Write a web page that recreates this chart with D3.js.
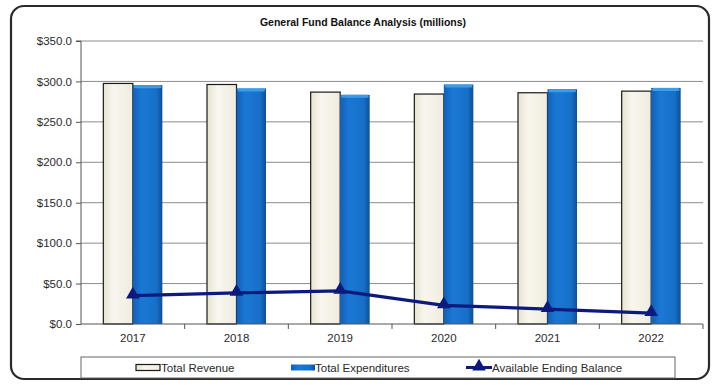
<!DOCTYPE html>
<html>
<head>
<meta charset="utf-8">
<script src="https://cdn.jsdelivr.net/npm/d3@7"></script>
<style>
  html, body { margin: 0; padding: 0; background: #fff; }
  svg { display: block; font-family: "Liberation Sans", Arial, sans-serif; }
</style>
</head>
<body>
<svg id="chart" width="713" height="385"></svg>
<script>
// General Fund figures, in millions of dollars
const years = ["2017", "2018", "2019", "2020", "2021", "2022"];
const totalRevenue = [297.5, 296.2, 286.8, 284.4, 286.0, 288.0];
const totalExpenditures = [295.4, 291.3, 283.4, 296.2, 290.4, 292.0];
const availableEndingBalance = [35.0, 38.5, 41.0, 23.0, 18.5, 13.5];
const yTicks = [0, 50, 100, 150, 200, 250, 300, 350];

const svg = d3.select("#chart");
const plot = { left: 81, right: 703, top: 41, bottom: 324 };

// outer rounded frame
svg.append("rect")
  .attr("x", 11).attr("y", 6).attr("width", 698).attr("height", 373)
  .attr("rx", 13).attr("ry", 13)
  .attr("fill", "#fff").attr("stroke", "#2a2a2a").attr("stroke-width", 2.2);

// gradients for the bar faces
const defs = svg.append("defs");
const gRev = defs.append("linearGradient").attr("id", "gradRev")
  .attr("x1", "0%").attr("x2", "100%").attr("y1", "0%").attr("y2", "0%");
gRev.append("stop").attr("offset", "0%").attr("stop-color", "#e8e4d0");
gRev.append("stop").attr("offset", "35%").attr("stop-color", "#f8f6ee");
gRev.append("stop").attr("offset", "100%").attr("stop-color", "#efebde");
const gExp = defs.append("linearGradient").attr("id", "gradExp")
  .attr("x1", "0%").attr("x2", "100%").attr("y1", "0%").attr("y2", "0%");
gExp.append("stop").attr("offset", "0%").attr("stop-color", "#1060b8");
gExp.append("stop").attr("offset", "30%").attr("stop-color", "#1a78d4");
gExp.append("stop").attr("offset", "80%").attr("stop-color", "#1670c8");
gExp.append("stop").attr("offset", "100%").attr("stop-color", "#0c4f98");

const x = d3.scaleBand().domain(years).range([plot.left, plot.right]).paddingInner(0).paddingOuter(0);
const barW = 29.5;
const y = d3.scaleLinear().domain([0, 350]).range([plot.bottom, plot.top]);

// title
svg.append("text")
  .attr("x", 363).attr("y", 26)
  .attr("text-anchor", "middle")
  .attr("font-size", 10.5).attr("font-weight", "bold").attr("fill", "#111")
  .text("General Fund Balance Analysis (millions)");

// horizontal gridlines
svg.append("g").selectAll("line").data(yTicks.filter(d => d > 0)).join("line")
  .attr("x1", plot.left).attr("x2", plot.right)
  .attr("y1", d => y(d)).attr("y2", d => y(d))
  .attr("stroke", "#8c8c8c").attr("stroke-width", 1);

// y axis
const yAxis = d3.axisLeft(y).tickValues(yTicks).tickSize(5).tickPadding(4)
  .tickFormat(d => "$" + d3.format(".1f")(d));
const gy = svg.append("g").attr("transform", `translate(${plot.left},0)`).call(yAxis);
gy.select(".domain").attr("stroke", "#555").attr("d", `M-5,${plot.top}H0V${plot.bottom}`);
gy.selectAll(".tick line").attr("stroke", "#555");
gy.selectAll(".tick text").attr("font-size", 11.5).attr("fill", "#2a2a2a")
  .attr("font-family", "'Liberation Sans', Arial, sans-serif");

// revenue bars
svg.append("g").selectAll("rect").data(years).join("rect")
  .attr("x", (d) => x(d) + x.bandwidth() / 2 - barW)
  .attr("y", (d, i) => y(totalRevenue[i]))
  .attr("width", barW)
  .attr("height", (d, i) => plot.bottom - y(totalRevenue[i]))
  .attr("fill", "url(#gradRev)")
  .attr("stroke", "#1a1a1a").attr("stroke-width", 1.2);

// expenditure bars
const expG = svg.append("g");
expG.selectAll("rect.face").data(years).join("rect").attr("class", "face")
  .attr("x", (d) => x(d) + x.bandwidth() / 2)
  .attr("y", (d, i) => y(totalExpenditures[i]))
  .attr("width", barW)
  .attr("height", (d, i) => plot.bottom - y(totalExpenditures[i]))
  .attr("fill", "url(#gradExp)");
// lighter rounded cap on top of each expenditure bar
expG.selectAll("rect.cap").data(years).join("rect").attr("class", "cap")
  .attr("x", (d) => x(d) + x.bandwidth() / 2 + 1)
  .attr("y", (d, i) => y(totalExpenditures[i]))
  .attr("width", barW - 2)
  .attr("height", 3)
  .attr("rx", 1.5)
  .attr("fill", "#3d9be8");

// x axis
const xAxis = d3.axisBottom(x).tickSize(0).tickPadding(10);
const gx = svg.append("g").attr("transform", `translate(0,${plot.bottom})`).call(xAxis);
gx.select(".domain").attr("stroke", "#555").attr("d", `M${plot.left},0H${plot.right}`);
gx.selectAll(".tick text").attr("font-size", 11.5).attr("fill", "#2a2a2a")
  .attr("font-family", "'Liberation Sans', Arial, sans-serif");
// tick marks between categories
svg.append("g").selectAll("line").data(years).join("line")
  .attr("x1", (d, i) => plot.left + x.bandwidth() * (i + 1))
  .attr("x2", (d, i) => plot.left + x.bandwidth() * (i + 1))
  .attr("y1", plot.bottom).attr("y2", plot.bottom + 5)
  .attr("stroke", "#555");

// ending balance line
const lineColor = "#0b1a7c";
const line = d3.line()
  .x((d, i) => x(years[i]) + x.bandwidth() / 2)
  .y(d => y(d));
svg.append("path").datum(availableEndingBalance)
  .attr("d", line).attr("fill", "none")
  .attr("stroke", lineColor).attr("stroke-width", 3.2);
const tri = d3.symbol().type(d3.symbolTriangle).size(80);
svg.append("g").selectAll("path").data(availableEndingBalance).join("path")
  .attr("d", tri)
  .attr("transform", (d, i) => `translate(${x(years[i]) + x.bandwidth() / 2},${y(d) - 1})`)
  .attr("fill", lineColor);

// legend
const lg = svg.append("g");
lg.append("rect").attr("x", 81).attr("y", 357).attr("width", 594).attr("height", 21)
  .attr("fill", "#fff").attr("stroke", "#666").attr("stroke-width", 1);
const legendY = 367.5;
lg.append("rect").attr("x", 136).attr("y", legendY - 3).attr("width", 24).attr("height", 6)
  .attr("fill", "url(#gradRev)").attr("stroke", "#1a1a1a").attr("stroke-width", 1.2);
lg.append("text").attr("x", 161).attr("y", legendY + 4).attr("font-size", 11.5).attr("fill", "#2a2a2a")
  .text("Total Revenue");
lg.append("rect").attr("x", 291).attr("y", legendY - 3).attr("width", 24).attr("height", 6)
  .attr("fill", "url(#gradExp)");
lg.append("text").attr("x", 315).attr("y", legendY + 4).attr("font-size", 11.5).attr("fill", "#2a2a2a")
  .text("Total Expenditures");
lg.append("line").attr("x1", 466).attr("x2", 492).attr("y1", legendY).attr("y2", legendY)
  .attr("stroke", lineColor).attr("stroke-width", 3);
lg.append("path").attr("d", tri).attr("transform", `translate(479,${legendY - 1})`).attr("fill", lineColor);
lg.append("text").attr("x", 492).attr("y", legendY + 4).attr("font-size", 11.5).attr("fill", "#2a2a2a")
  .text("Available Ending Balance");
</script>
</body>
</html>
